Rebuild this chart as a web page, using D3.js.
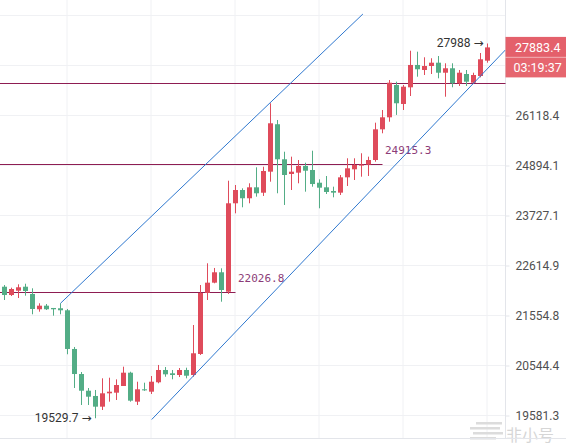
<!DOCTYPE html>
<html><head><meta charset="utf-8">
<script src="https://cdn.jsdelivr.net/npm/d3@7"></script>
<style>html,body{margin:0;padding:0;background:#fff;overflow:hidden}</style>
</head><body><svg id="c" width="566" height="445"></svg>
<script>
// ---- data (4h candles) ----
const candles = d3.range(70); // candle sequence numbers
const opens = [22159,21983,22074,22159,22005,21684,21759,21711,21705,21663, 20873,20377,20053,19952,19748,20003,20015,20144,20403,19843, 20080,20034,20216,20456,20391,20358,20456,20358,20773,22027, 22245,22468,22053,24007,24315,24123,24378,24252,24747,25900, 25043,24692,24723,24883,24787,24486,24378,24292,24253,24613, 24803,24906,24915,25026,25774,26073,26895,26409,26835,27417, 27285,27390,27477,27214,27330,26939,27180,26954,27128,27530];
const highs = [22195,22138,22210,22223,22125,21809,21794,21711,21809,21690, 20913,20416,20105,20067,20293,20305,20273,20521,20422,20227, 20208,20338,20555,20515,20456,20495,20501,21359,22195,22663, 22561,22554,24533,24432,24355,24472,24851,24865,26427,26006, 25226,25106,25026,24961,25250,24566,24644,24393,24668,25067, 25067,25188,25106,25939,26257,27024,26980,26895,27795,27769, 27620,27594,27654,27461,27461,27285,27285,27214,27734,27988];
const lows = [21878,21962,21920,21969,21580,21634,21669,21551,21580,20767, 20105,19780,19780,19529.7,19685,19843,19875,20144,19843,19780, 20050,19990,20196,20324,20274,20318,20293,20324,20753,21878, 22232,21842,22005,23777,23915,24007,24160,24176,24510,24239, 23968,24315,24472,24276,24392,23892,24222,24145,24199,24409, 24550,24628,24645,24985,25676,25963,26133,26257,26612,27110, 27154,27180,27068,26594,26836,26869,26869,26920,27094,27477];
const closes = [21983,22110,22147,22068,21690,21759,21684,21684,21663,20873, 20377,20053,19938,19748,20003,20034,20163,20403,19862,20080, 20060,20227,20456,20371,20358,20456,20344,20787,22026.8,22245, 22468,22089,24007,24315,24123,24378,24239,24763,25924,25043, 24668,24747,24883,24770,24455,24369,24269,24253,24613,24827, 24906,24915.3,25026,25774,26073,26954,26427,26851,27417,27304, 27390,27477,27214,27330,26939,27214,26980,27154,27567,27883.4];

const axisTicks = [19581.3, 20544.4, 21554.8, 22614.9, 23727.1, 24894.1, 26118.4];
const extraGridPrices = [27402.9, 28750.5];
const timeGridCandles = [9, 21, 33, 45, 57, 69];

const levelPrices = [26921, 24915.3, 22026.8];
const levelEndCandles = [75, 54, 33];
const levelLabels = ["", "24915.3", "22026.8"];

const channelUpper = [[8, 21809], [51.2, 28792]];
const channelLower = [[21.03, 19506], [71.55, 27814]];

const lastPrice = 27883.4;
const countdown = "03:19:37";
const highNote = {candle: 69, price: 27988, text: "27988 →"};
const lowNote = {candle: 13, price: 19529.7, text: "19529.7 →"};

// ---- drawing ----
const svg = d3.select("#c");
const plotR = 505.5, plotB = 438.5;
const UP = "#df4b5b", DOWN = "#53ad86";

const x = d3.scaleBand().domain(candles).range([1, 491]).paddingInner(2/7).paddingOuter(1/7);
const xc = i => x(i) + x.bandwidth()/2;
const xLin = d3.scaleLinear().domain([0, 69]).range([xc(0), xc(69)]);
const y = d3.scaleLog().domain([19581.3, 26118.4]).range([415.5, 115.5]);
const snap = v => Math.round(v - 0.5) + 0.5;

svg.append("rect").attr("width", 566).attr("height", 445).attr("fill", "#fff");

svg.append("defs").append("clipPath").attr("id", "plot")
  .append("rect").attr("x", 0).attr("y", 0).attr("width", plotR).attr("height", plotB);

const grid = svg.append("g");
grid.selectAll("line.h").data(axisTicks.concat(extraGridPrices)).join("line")
  .attr("x1", 0).attr("x2", plotR).attr("y1", d => snap(y(d))).attr("y2", d => snap(y(d)))
  .attr("stroke", "#f0f1f4").attr("stroke-width", 1);
grid.selectAll("line.v").data(timeGridCandles).join("line")
  .attr("x1", d => xc(d) - 0.5).attr("x2", d => xc(d) - 0.5).attr("y1", 0).attr("y2", plotB)
  .attr("stroke", "#f0f1f4").attr("stroke-width", 1);

// watermark (behind axis labels)
const wm = svg.append("g").attr("fill", "#dcdcdc");
[[476, 422, 26], [470, 427, 30], [473, 432, 30], [470, 437, 26]].forEach(b => {
  wm.append("rect").attr("x", b[0]).attr("y", b[1]).attr("width", b[2]).attr("height", 2.5);
});
wm.append("text").attr("x", 506).attr("y", 441).attr("font-family", "Noto Sans CJK SC, sans-serif")
  .attr("font-size", 16).attr("fill", "#d6d6d6").text("非小号");

// borders
svg.append("line").attr("x1", plotR).attr("x2", plotR).attr("y1", 0).attr("y2", plotB).attr("stroke", "#e3e5ea");
svg.append("line").attr("x1", 0).attr("x2", 566).attr("y1", plotB).attr("y2", plotB).attr("stroke", "#e3e5ea");

const plot = svg.append("g").attr("clip-path", "url(#plot)");

// horizontal levels
const lv = plot.append("g");
levelPrices.forEach((p, k) => {
  const yy = snap(y(p));
  lv.append("line").attr("x1", 0).attr("x2", xLin(levelEndCandles[k])).attr("y1", yy).attr("y2", yy)
    .attr("stroke", "#8e1d52").attr("stroke-width", 1);
  if (levelLabels[k]) {
    lv.append("text").attr("x", xLin(levelEndCandles[k]) + 2.5).attr("y", yy - 11)
      .attr("font-family", "DejaVu Sans Mono, Liberation Mono, monospace").attr("font-size", 11)
      .attr("fill", "#8c3c78").text(levelLabels[k]);
  }
});

// candles
const cg = plot.append("g");
candles.forEach(i => {
  const up = closes[i] >= opens[i];
  const col = up ? UP : DOWN;
  cg.append("line").attr("x1", xc(i)).attr("x2", xc(i)).attr("y1", y(highs[i])).attr("y2", y(lows[i]))
    .attr("stroke", col).attr("stroke-width", 1);
  const top = y(Math.max(opens[i], closes[i])), bot = y(Math.min(opens[i], closes[i]));
  cg.append("rect").attr("x", x(i)).attr("width", x.bandwidth())
    .attr("y", top).attr("height", Math.max(1, bot - top)).attr("fill", col);
});

// channel
const ln = d3.line().x(d => xLin(d[0])).y(d => y(d[1]));
[channelUpper, channelLower].forEach(c => {
  plot.append("path").attr("d", ln(c)).attr("fill", "none").attr("stroke", "#2f78cf").attr("stroke-width", 1);
});

// annotations
[highNote, lowNote].forEach(n => {
  svg.append("text").attr("x", xc(n.candle) - 4).attr("y", y(n.price) + 4)
    .attr("text-anchor", "end").attr("font-family", "Roboto, DejaVu Sans, sans-serif").attr("font-size", 12)
    .attr("fill", "#333").text(n.text);
});

// right axis
const ax = svg.append("g").attr("transform", `translate(${plotR},0)`)
  .call(d3.axisRight(y).tickValues(axisTicks).tickFormat(d3.format(".1f")).tickSize(4).tickPadding(6));
ax.select(".domain").remove();
ax.selectAll(".tick line").attr("stroke", "#e3e5ea");
ax.selectAll(".tick text").attr("font-family", "Roboto, sans-serif").attr("font-size", 12).attr("fill", "#505050");

// last price boxes
const ly = y(lastPrice);
svg.append("rect").attr("x", plotR).attr("y", ly - 10.5).attr("width", 566 - plotR).attr("height", 20).attr("fill", "#e4606b");
svg.append("rect").attr("x", plotR).attr("y", ly + 10).attr("width", 566 - plotR).attr("height", 20).attr("fill", "#e6666f");
svg.append("text").attr("x", 515).attr("y", ly + 4.5).attr("font-family", "Roboto, sans-serif").attr("font-size", 12.5)
  .attr("fill", "#fff").text(d3.format(".1f")(lastPrice));
svg.append("text").attr("x", 513.5).attr("y", ly + 25).attr("font-family", "Roboto, sans-serif").attr("font-size", 12.5)
  .attr("fill", "#fff").text(countdown);
</script></body></html>
